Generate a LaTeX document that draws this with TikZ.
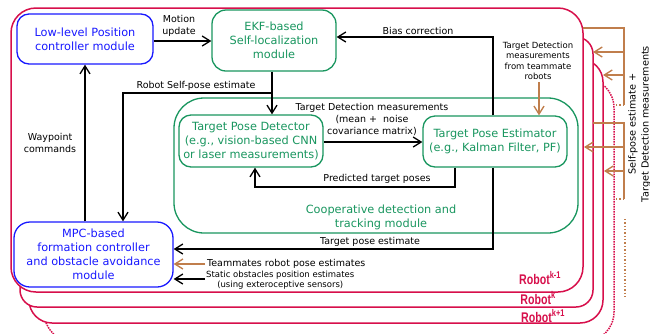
\documentclass[tikz,border=0pt]{standalone}
\usepackage{fontspec}
\setmainfont{DejaVu Sans}
\newfontfamily\robotfont{Liberation Sans}
\usetikzlibrary{arrows.meta}
\definecolor{cblue}{RGB}{25,25,255}
\definecolor{cgreen}{RGB}{25,150,95}
\definecolor{cred}{RGB}{215,15,75}
\definecolor{cbrown}{RGB}{192,126,76}
\newcommand\fMod{\fontsize{11.3}{14}\selectfont}
\newcommand\fLab{\fontsize{9.5}{12}\selectfont}
\newcommand\fSm{\fontsize{8.5}{10.5}\selectfont}
\newcommand\fRot{\fontsize{9.7}{13}\selectfont}
\newcommand\fRob{\robotfont\bfseries\fontsize{14}{15}\selectfont}
\begin{document}
\begin{tikzpicture}[x=1pt,y=-1pt,
  ln/.style={line width=1.3pt, black},
  arr/.style={ln, -{Straight Barb[length=8pt,width=10pt,line width=1.3pt]}},
  barr/.style={line width=1.35pt, cbrown, -{Straight Barb[length=8pt,width=10pt,line width=1.35pt]}},
  bln/.style={line width=1.35pt, cbrown},
  bdot/.style={line width=1.35pt, cbrown, dotted},
  rbox/.style={cred, line width=1.5pt, fill=white},
  bluebox/.style={draw=cblue, text=cblue, line width=1.3pt, rounded corners=12pt, align=center, font=\fMod, inner sep=0pt},
  greenbox/.style={draw=cgreen, text=cgreen, line width=1.3pt, rounded corners=12pt, align=center, font=\fMod, inner sep=0pt},
  lab/.style={font=\fLab, align=center, inner sep=0pt},
  sml/.style={font=\fSm, align=center, inner sep=0pt},
  roblab/.style={text=cred, font=\fRob, inner sep=0pt, xscale=0.76},
]
\useasboundingbox (0,0) rectangle (650,333);
% robot boxes, back to front
\draw[rbox, densely dotted, rounded corners=30pt] (44,78) rectangle (614,342);
\draw[rbox, rounded corners=23pt] (29,59) rectangle (603,323);
\draw[rbox, rounded corners=17pt] (20,37) rectangle (593,307);
\draw[rbox, rounded corners=25pt] (11,8) rectangle (583,292);

% modules
\node[greenbox, minimum width=404pt, minimum height=135pt, rounded corners=30pt] (coop) at (376,165.5) {};
\node[lab, text=cgreen, font=\fMod] (coopt) at (381,217) {Cooperative detection and\\tracking module};
\node[bluebox, minimum width=136pt, minimum height=50pt] (low) at (85,39) {Low-level Position\\controller module};
\node[greenbox, minimum width=124pt, minimum height=61pt, rounded corners=14pt] (ekf) at (274,40.5) {EKF-based\\Self-localization\\module};
\node[greenbox, minimum width=144pt, minimum height=52pt] (det) at (251,141) {Target Pose Detector\\(e.g., vision-based CNN\\or laser measurements)};
\node[greenbox, minimum width=144pt, minimum height=51pt] (est) at (495,141.5) {Target Pose Estimator\\(e.g., Kalman Filter, PF)};
\node[bluebox, minimum width=159pt, minimum height=65pt, rounded corners=16pt] (mpc) at (93.5,254.5) {MPC-based\\formation controller\\and obstacle avoidance\\module};

% connectors
\draw[arr] (low.east |- 0,41) -- (ekf.west |- 0,41);
\node[lab] (lmot) at (179,26) {Motion\\update};

\coordinate (sp) at (272,93);
\draw[arr] (ekf.south -| 272,0) -- (det.north -| 272,0);
\draw[arr] (sp) -- (123,93) -- (mpc.north -| 123,0);
\node[lab] (lsp) at (196,86) {Robot Self-pose estimate};

\draw[arr] (mpc.north -| 85,0) -- (low.south -| 85,0);
\node[lab] (lwp) at (50,143) {Waypoint\\commands};

\draw[arr] (est.north -| 493,0) -- (493,37) -- (ekf.east |- 0,37);
\node[lab] (lbias) at (418,31) {Bias correction};

\draw[arr] (det.east |- 0,142) -- (est.west |- 0,142);
\node[lab] (ltd) at (372,120) {Target Detection measurements\\(mean +\ \ noise\\covariance matrix)};

\draw[arr] (est.south -| 455,0) -- (455,187) -- (255,187) -- (det.south -| 255,0);
\node[lab] (lpred) at (377,179) {Predicted target poses};

\draw[arr] (est.south -| 493,0) -- (493,249) -- (mpc.east |- 0,249);
\node[lab] (ltpe) at (370,242) {Target pose estimate};

\coordinate (tmS) at (205,264);
\draw[barr] (tmS) -- (mpc.east |- 0,264);
\node[lab, anchor=west] (ltm) at (207,264) {Teammates robot pose estimates};

\coordinate (stS) at (205,279);
\draw[arr] (stS) -- (mpc.east |- 0,279);
\node[sml, anchor=west] (lst) at (206,280) {Static obstacles position estimates\\(using exteroceptive sensors)};

\node[sml] (ltdt) at (538,61) {Target Detection\\measurements\\from teammate\\robots};
\draw[barr] (539,82) -- (est.north -| 539,0);

% broadcast brackets
\draw[bln] (583,28) -- (624,28) -- (624,105);
\draw[barr] (624,52) -- (593,52);
\draw[barr] (624,75) -- (603,75);
\draw[bdot] (624,105) -- (615,105);

\draw[bln] (593,123) -- (624,123) -- (624,199);
\draw[barr] (624,147) -- (584,147);
\draw[barr] (624,171) -- (604,171);
\draw[bdot] (624,199) -- (616,199);

\draw[bdot] (625,219) -- (625,298);

\node[lab, font=\fRot, rotate=90] (lrot) at (639.5,124) {Self-pose estimate +\\Target Detection measurements};

% robot labels
\node[roblab] (rk1) at (540,278) {Robot\textsuperscript{k-1}};
\node[roblab] (rk) at (538,298) {Robot\textsuperscript{k}};
\node[roblab] (rk2) at (543,316) {Robot\textsuperscript{k+1}};
\end{tikzpicture}
\end{document}
